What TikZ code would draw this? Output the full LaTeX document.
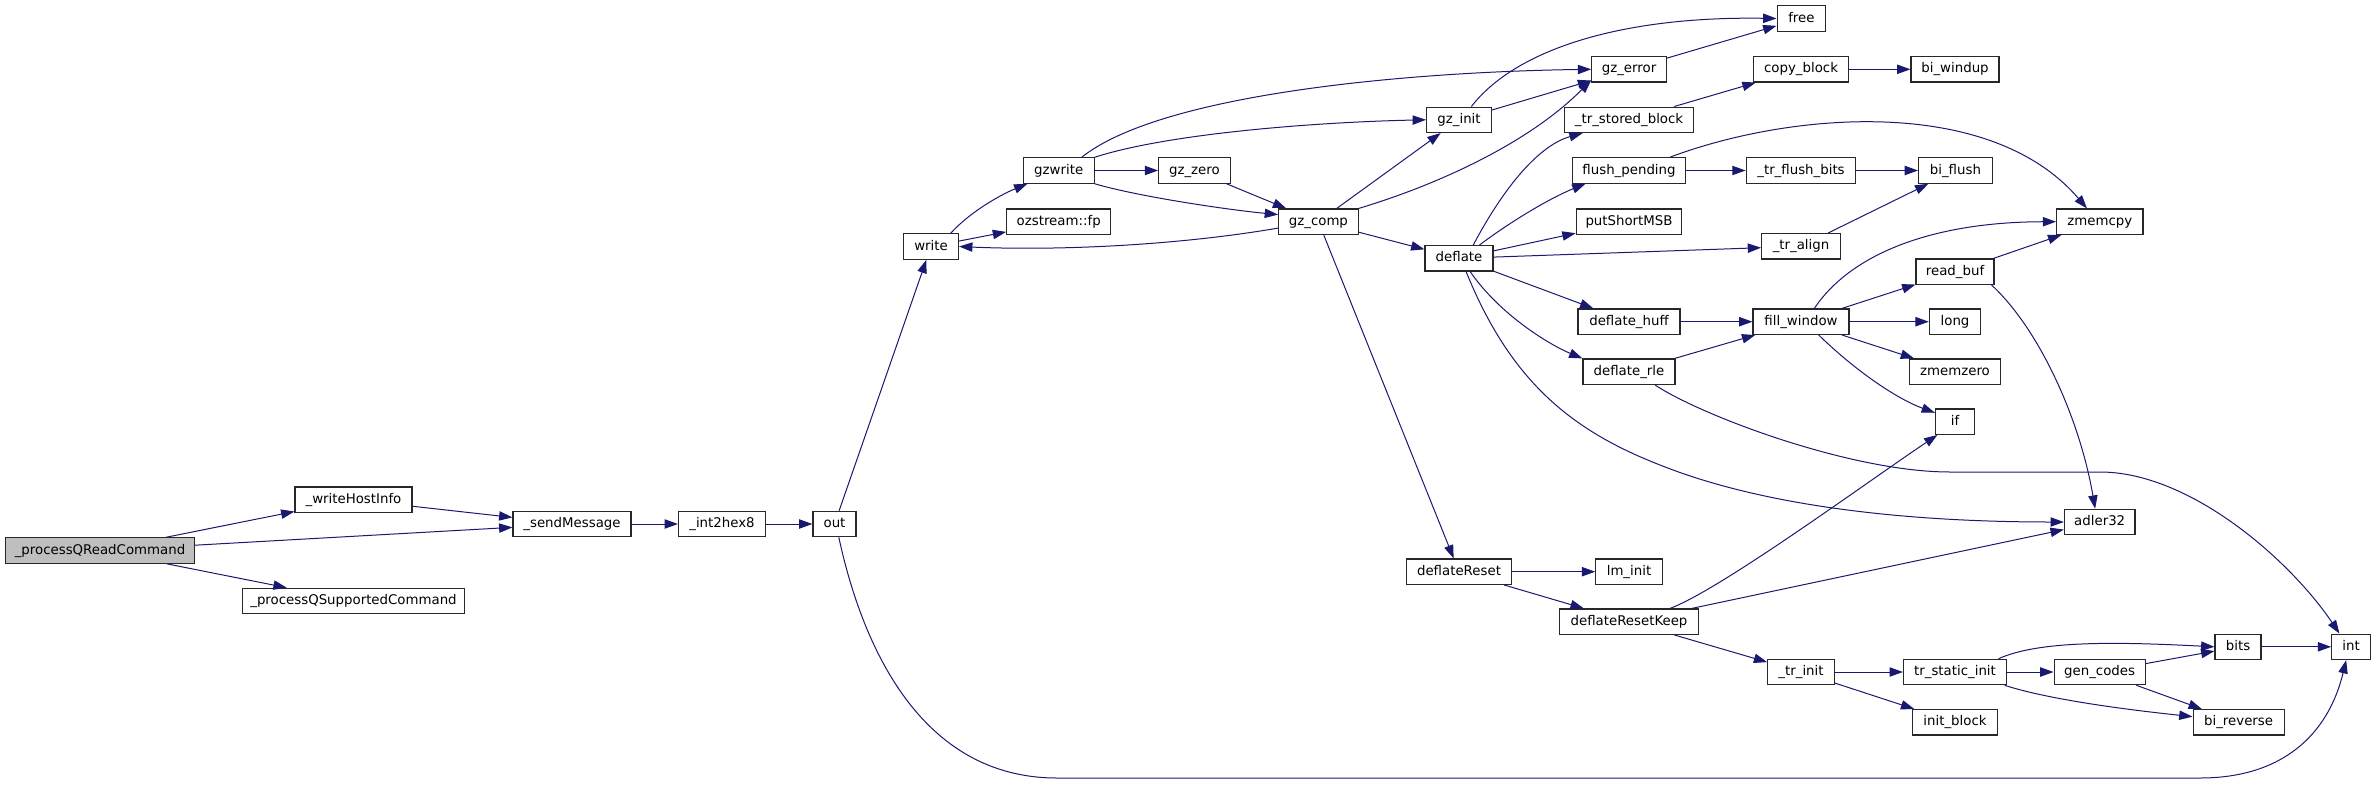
\documentclass[tikz,border=0pt]{standalone}
\usepackage{fontspec}
\setmainfont{DejaVu Sans}
\usetikzlibrary{arrows.meta}
\definecolor{mblue}{RGB}{25,25,112}
\definecolor{rootgray}{RGB}{191,191,191}
\definecolor{boxline}{RGB}{40,40,40}
\tikzset{
  fn/.style={draw=boxline, line width=0.85pt, fill=white, rectangle, inner sep=0pt,
    minimum height=19.1pt, minimum width={#1*0.75pt},
    text height=7.4pt, text depth=2.1pt, font=\fontsize{10}{12}\selectfont},
  rootnode/.style={fill=rootgray},
  e/.style={draw=mblue, line width=0.75pt, -{Triangle[length=10pt,width=7pt]}}
}
\begin{document}
\begin{tikzpicture}[x=0.75pt,y=-0.75pt]
\useasboundingbox (0,0) rectangle (2376,789);
% nodes
\node[fn=189,rootnode] (pqr) at (100,550.5) {\_processQReadCommand};
\node[fn=117] (whi) at (353.5,499.7) {\_writeHostInfo};
\node[fn=222.5] (pqs) at (353.5,601) {\_processQSupportedCommand};
\node[fn=118] (snd) at (572,524) {\_sendMessage};
\node[fn=87] (i2h) at (722,524) {\_int2hex8};
\node[fn=43] (out) at (834.5,524) {out};
\node[fn=55] (wr) at (931,246.5) {write};
\node[fn=71] (gzw) at (1058.7,170.5) {gzwrite};
\node[fn=104] (ozf) at (1058.7,221.7) {ozstream::fp};
\node[fn=71.4] (gzz) at (1194.4,170.5) {gz\_zero};
\node[fn=79.6] (gzc) at (1318.4,221.7) {gz\_comp};
\node[fn=65] (gzi) at (1459,119.8) {gz\_init};
\node[fn=68] (dfl) at (1459,258.3) {deflate};
\node[fn=105.6] (dfr) at (1459,571.7) {deflateReset};
\node[fn=74.6] (gze) at (1629,69.3) {gz\_error};
\node[fn=129.4] (tsb) at (1629,119.8) {\_tr\_stored\_block};
\node[fn=113.6] (fp) at (1629,170.5) {flush\_pending};
\node[fn=105.5] (psm) at (1629,221.7) {putShortMSB};
\node[fn=102] (dh) at (1629,321.7) {deflate\_huff};
\node[fn=92] (dr) at (1629,371.7) {deflate\_rle};
\node[fn=66.5] (lm) at (1629,571.7) {lm\_init};
\node[fn=139] (drk) at (1629,621.7) {deflateResetKeep};
\node[fn=48.7] (free) at (1801.4,18.5) {free};
\node[fn=95] (cpb) at (1801,69.3) {copy\_block};
\node[fn=109.7] (tfb) at (1801,170.5) {\_tr\_flush\_bits};
\node[fn=78.7] (tal) at (1801,246.3) {\_tr\_align};
\node[fn=96] (fw) at (1801,321.7) {fill\_window};
\node[fn=66.5] (ti) at (1801,672) {\_tr\_init};
\node[fn=88] (bwu) at (1955,69.3) {bi\_windup};
\node[fn=73.6] (bfl) at (1955.4,170.5) {bi\_flush};
\node[fn=78] (rb) at (1955,271.7) {read\_buf};
\node[fn=51.3] (lng) at (1955,321.7) {long};
\node[fn=90.4] (zmz) at (1955,371.7) {zmemzero};
\node[fn=39] (iff) at (1955,421.7) {if};
\node[fn=103] (tsi) at (1955,672) {tr\_static\_init};
\node[fn=85] (ib) at (1955,722.3) {init\_block};
\node[fn=86.3] (zmc) at (2099.8,221.7) {zmemcpy};
\node[fn=70.6] (adl) at (2099.7,522) {adler32};
\node[fn=91] (gc) at (2099.6,672) {gen\_codes};
\node[fn=46] (bits) at (2238,646.8) {bits};
\node[fn=91] (brv) at (2238.6,722.3) {bi\_reverse};
\node[fn=38.6] (int) at (2351,646.8) {int};
% edges
\draw[e] (pqr) -- (whi);
\draw[e] (pqr) -- (snd);
\draw[e] (pqr) -- (pqs);
\draw[e] (whi) -- (snd);
\draw[e] (snd) -- (i2h);
\draw[e] (i2h) -- (out);
\draw[e] (out) -- (wr);
\draw[e] (out.-72) .. controls (862,645) and (920,778) .. (1057,778) -- (2200,778) .. controls (2282,778) and (2328,735) .. (int.250);
\draw[e] (wr.34) .. controls (970,212) and (1000,195) .. (gzw.203);
\draw[e] (wr) -- (ozf);
\draw[e] (gzw.30) .. controls (1160,95) and (1400,72) .. (gze.west);
\draw[e] (gzw.north east) .. controls (1170,133) and (1320,122) .. (gzi.west);
\draw[e] (gzw) -- (gzz);
\draw[e] (gzw.south east) .. controls (1140,197) and (1230,210) .. (gzc.170);
\draw[e] (gzz) -- (gzc);
\draw[e] (gzc.189) .. controls (1180,245) and (1060,251) .. (wr.east);
\draw[e] (gzc) -- (gzi);
\draw[e] (gzc.north east) .. controls (1440,184) and (1530,142) .. (gze.196);
\draw[e] (gzc) -- (dfl);
\draw[e] (gzc) -- (dfr);
\draw[e] (gzi.47) .. controls (1515,50) and (1620,16) .. (free.west);
\draw[e] (gzi) -- (gze);
\draw[e] (gze) -- (free);
\draw[e] (dfl.43) .. controls (1505,185) and (1540,145) .. (tsb.196);
\draw[e] (dfl.33) .. controls (1510,222) and (1550,198) .. (fp.197);
\draw[e] (dfl) -- (psm);
\draw[e] (dfl) -- (tal);
\draw[e] (dfl) -- (dh);
\draw[e] (dfl.-50) .. controls (1500,315) and (1550,345) .. (dr.north west);
\draw[e] (dfl.-62) .. controls (1510,380) and (1570,430) .. (1660,465) .. controls (1760,505) and (1900,522) .. (adl.west);
\draw[e] (tsb) -- (cpb);
\draw[e] (cpb) -- (bwu);
\draw[e] (fp) -- (tfb);
\draw[e] (fp.18) .. controls (1790,112) and (1990,95) .. (zmc.134);
\draw[e] (tfb) -- (bfl);
\draw[e] (tal) -- (bfl);
\draw[e] (dh) -- (fw);
\draw[e] (dr) -- (fw);
\draw[e] (dr.-27) .. controls (1700,415) and (1850,472) .. (1950,472) -- (2100,472) .. controls (2190,472) and (2290,560) .. (int.131);
\draw[e] (fw.45) .. controls (1850,255) and (1930,222) .. (zmc.west);
\draw[e] (fw) -- (rb);
\draw[e] (fw) -- (lng);
\draw[e] (fw) -- (zmz);
\draw[e] (fw.-37) .. controls (1860,375) and (1900,400) .. (iff.156);
\draw[e] (rb) -- (zmc);
\draw[e] (rb.-20) .. controls (2040,330) and (2080,420) .. (adl.109);
\draw[e] (dfr) -- (lm);
\draw[e] (dfr) -- (drk);
\draw[e] (drk.18) .. controls (1720,590) and (1870,480) .. (iff.217);
\draw[e] (drk) -- (adl);
\draw[e] (drk) -- (ti);
\draw[e] (ti) -- (tsi);
\draw[e] (ti) -- (ib);
\draw[e] (tsi.17) .. controls (2040,640) and (2120,642) .. (bits.west);
\draw[e] (tsi) -- (gc);
\draw[e] (tsi.-15) .. controls (2050,700) and (2130,710) .. (brv.173);
\draw[e] (gc) -- (bits);
\draw[e] (gc) -- (brv);
\draw[e] (bits) -- (int);
\end{tikzpicture}
\end{document}
